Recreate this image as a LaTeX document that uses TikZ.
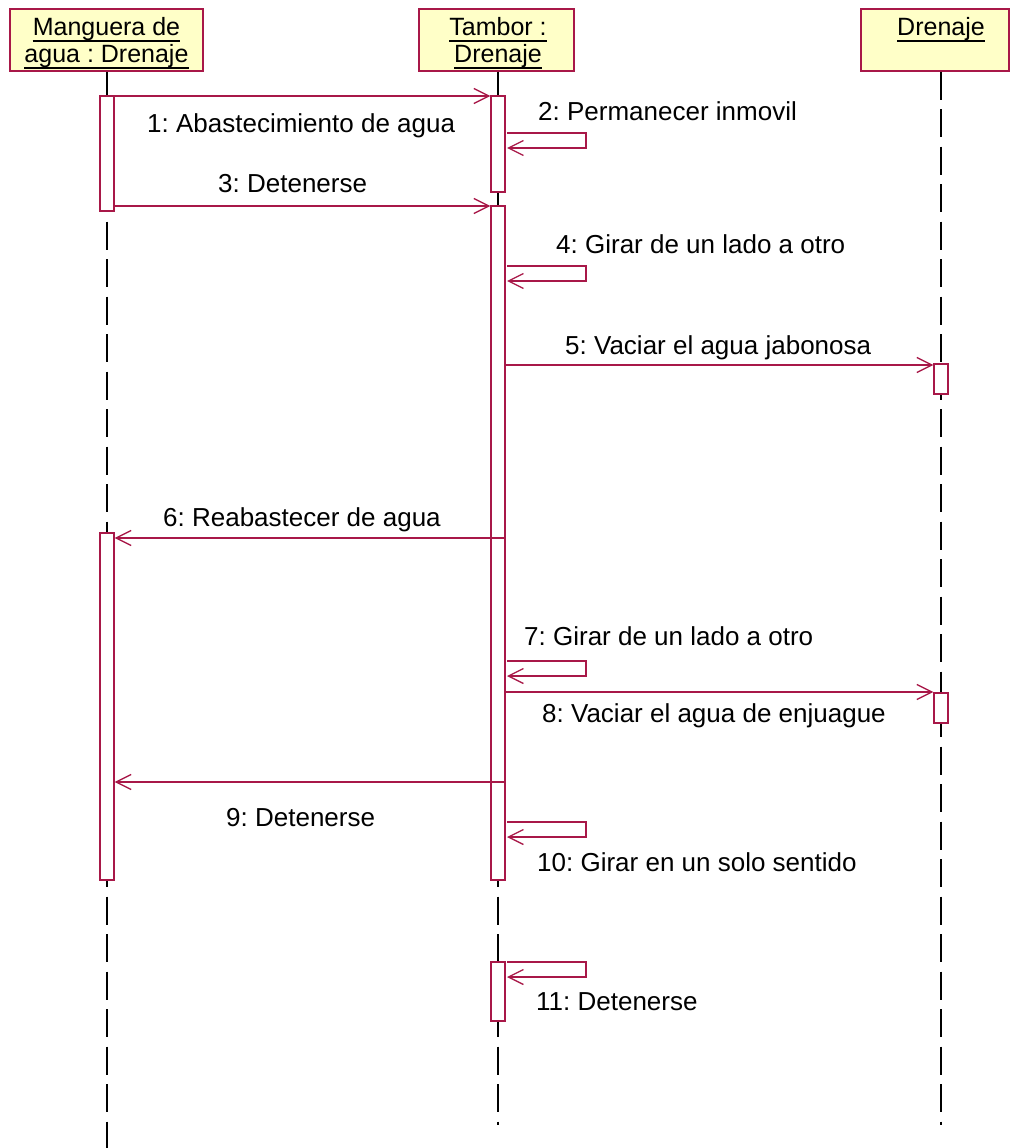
\documentclass[tikz,border=0pt]{standalone}
\usepackage{fontspec}
\setmainfont{Liberation Sans}
\usetikzlibrary{arrows.meta,calc}
\definecolor{umlred}{RGB}{168,24,72}
\definecolor{umlfill}{RGB}{255,255,200}
\frenchspacing
\begin{document}
\begin{tikzpicture}[x=1pt,y=-1pt,
  header/.style={draw=umlred,fill=umlfill,line width=1.4pt,minimum height=62pt,inner sep=0pt},
  htext/.style={inner sep=0pt,anchor=base,font=\fontsize{25}{30}\selectfont},
  uline/.style={line width=1.3pt},
  lifeline/.style={line width=1.6pt,dash pattern=on 28pt off 9.5pt},
  actbar/.style={draw=umlred,fill=white,line width=1.4pt,minimum width=14pt,inner sep=0pt},
  msg/.style={draw=umlred,line width=1.3pt,-{Straight Barb[length=15pt,width=15pt,line width=1.3pt]}},
  lbl/.style={inner sep=0pt,anchor=base west,font=\fontsize{26}{30}\selectfont}
]
\useasboundingbox (0,0) rectangle (1010,1148);

% headers
\node[header,minimum width=193pt] (hm) at (106.5,40) {};
\node[header,minimum width=155pt] (ht) at (496.5,40) {};
\node[header,minimum width=148pt] (hd) at (935,40) {};

\node[htext] (hm1) at (106.5,36) {Manguera de\ };
\node[htext] (hm2) at (106.5,63) {agua : Drenaje};
\node[htext] (ht1) at (498,36) {Tambor :\ };
\node[htext] (ht2) at (498,63) {Drenaje};
\node[htext] (hd1) at (941,36) {Drenaje};
\foreach \n in {hm1,hm2,ht1,ht2,hd1}
  \draw[uline] ([yshift=-5pt]\n.base west) -- ([yshift=-5pt]\n.base east);

% lifelines
\coordinate (em) at (107,1148);
\coordinate (et) at (498,1125);
\coordinate (ed) at (941,1125);
\draw[lifeline] (hm.south -| em) -- (em);
\draw[lifeline] (ht.south -| et) -- (et);
\draw[lifeline] (hd.south -| ed) -- (ed);

% activation bars
\node[actbar,minimum height=115pt] (m1) at (107,153.5) {};
\node[actbar,minimum height=347pt] (m2) at (107,706.5) {};
\node[actbar,minimum height=96pt]  (t1) at (498,144) {};
\node[actbar,minimum height=332pt] (t2) at (498,372) {};
\node[actbar,minimum height=342pt] (t3) at (498,709) {};
\node[actbar,minimum height=59pt]  (t4) at (498,991.5) {};
\node[actbar,minimum height=30pt]  (d1) at (941,379) {};
\node[actbar,minimum height=30pt]  (d2) at (941,708) {};

% message rows
\coordinate (r1) at (0,96);
\coordinate (r3) at (0,206);
\coordinate (r5) at (0,365);
\coordinate (r6) at (0,538);
\coordinate (r8) at (0,692);
\coordinate (r9) at (0,782);
% self-message start/end points
\coordinate (s2a) at (507,133);  \coordinate (s2b) at (507,148);
\coordinate (s4a) at (507,266);  \coordinate (s4b) at (507,281);
\coordinate (s7a) at (507,661);  \coordinate (s7b) at (507,676);
\coordinate (s10a) at (507,822); \coordinate (s10b) at (507,837);
\coordinate (s11a) at (507,962); \coordinate (s11b) at (507,977);

% messages
\draw[msg] (m1.east |- r1) -- (t1.west |- r1);
\draw[msg] (s2a) -- ++(79,0) |- (s2b);
\draw[msg] (m1.east |- r3) -- (t2.west |- r3);
\draw[msg] (s4a) -- ++(79,0) |- (s4b);
\draw[msg] (t2.east |- r5) -- (d1.west |- r5);
\draw[msg] (t3.east |- r6) -- (m2.east |- r6);
\draw[msg] (s7a) -- ++(79,0) |- (s7b);
\draw[msg] (t3.east |- r8) -- (d2.west |- r8);
\draw[msg] (t3.east |- r9) -- (m2.east |- r9);
\draw[msg] (s10a) -- ++(79,0) |- (s10b);
\draw[msg] (s11a) -- ++(79,0) |- (s11b);

% labels
\node[lbl] (l1) at (147,132) {1: Abastecimiento de agua};
\node[lbl] (l2) at (538,120) {2: Permanecer inmovil};
\node[lbl] (l3) at (218,192) {3: Detenerse};
\node[lbl] (l4) at (556,253) {4: Girar de un lado a otro};
\node[lbl] (l5) at (565,354) {5: Vaciar el agua jabonosa};
\node[lbl] (l6) at (163,526) {6: Reabastecer de agua};
\node[lbl] (l7) at (524,645) {7: Girar de un lado a otro};
\node[lbl] (l8) at (542,722) {8: Vaciar el agua de enjuague};
\node[lbl] (l9) at (226,826) {9: Detenerse};
\node[lbl] (l10) at (537,871) {10: Girar en un solo sentido};
\node[lbl] (l11) at (536,1010) {11: Detenerse};
\end{tikzpicture}
\end{document}
